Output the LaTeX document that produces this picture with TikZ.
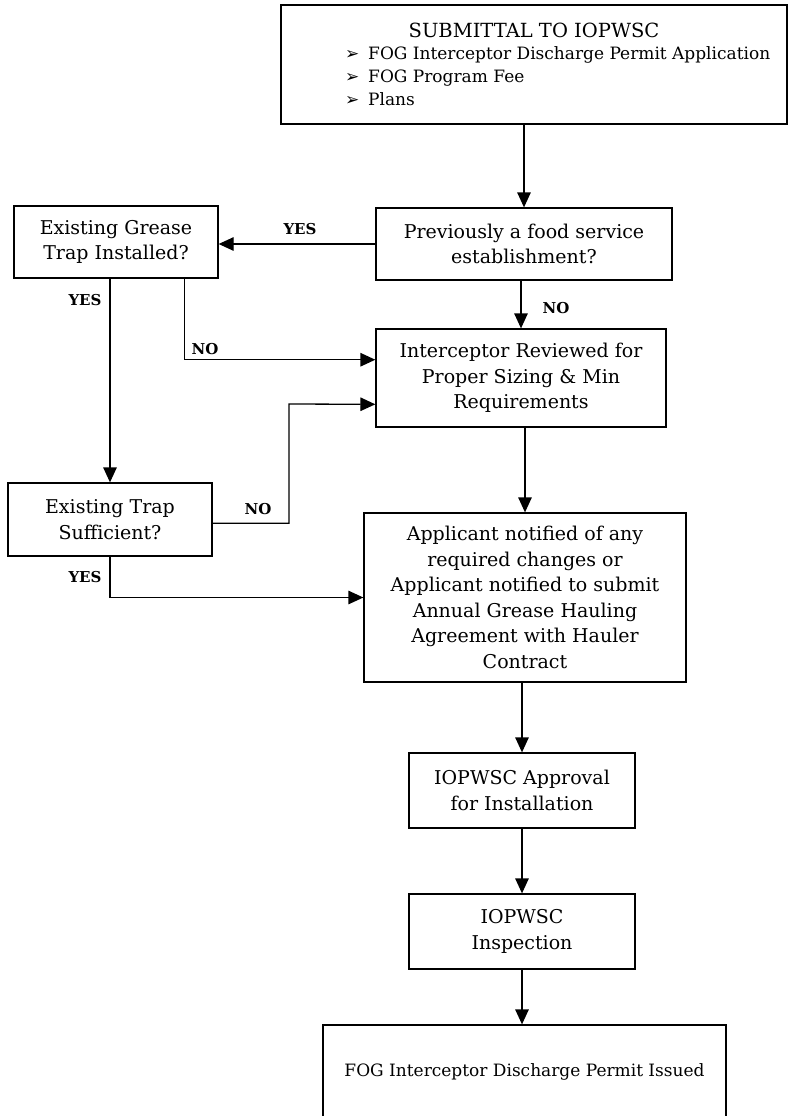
\documentclass[tikz,border=0pt]{standalone}
\usepackage{fontspec}
\setmainfont{DejaVu Serif}
\newfontfamily\dvsans{DejaVu Sans}
\usetikzlibrary{arrows.meta,calc}
\begin{document}
\begin{tikzpicture}[x=1pt,y=-1pt,
  box/.style={draw, line width=1.3pt, align=center, inner sep=0pt,
    font=\fontsize{19}{25.5}\selectfont},
  arr/.style={line width=1.3pt, -{Triangle[length=15pt,width=13.5pt]}},
  lab/.style={font=\fontsize{15}{17}\selectfont\bfseries, inner sep=0pt},
  small/.style={font=\fontsize{17}{23}\selectfont},
  bul/.style={}]
\useasboundingbox (0,0) rectangle (788,1116);

% boxes
\node[box, minimum width=506pt, minimum height=119pt] (top) at (534,64.5) {};
\node[font=\fontsize{19.5}{23}\selectfont, inner sep=0pt] (title) at (534,30) {SUBMITTAL TO IOPWSC};
\node[small, anchor=west, align=left, inner sep=0pt] (list) at (345,76)
  {\makebox[23pt][l]{\dvsans\fontsize{17}{23}\selectfont ➢}FOG Interceptor Discharge Permit Application\\
   \makebox[23pt][l]{\dvsans\fontsize{17}{23}\selectfont ➢}FOG Program Fee\\
   \makebox[23pt][l]{\dvsans\fontsize{17}{23}\selectfont ➢}Plans};

\node[box, minimum width=296pt, minimum height=72pt] (prev) at (524,244)
  {Previously a food service\\establishment?};
\node[box, minimum width=204pt, minimum height=72pt] (grease) at (116,242)
  {Existing Grease\\Trap Installed?};
\node[box, minimum width=290pt, minimum height=98pt] (intc) at (521,378)
  {Interceptor Reviewed for\\Proper Sizing \& Min\\Requirements};
\node[box, minimum width=204pt, minimum height=73pt] (trap) at (110,519.5)
  {Existing Trap\\Sufficient?};
\node[box, minimum width=322pt, minimum height=169pt] (appl) at (525,597.5)
  {Applicant notified of any\\required changes or\\Applicant notified to submit\\Annual Grease Hauling\\Agreement with Hauler\\Contract};
\node[box, minimum width=226pt, minimum height=75pt] (appr) at (522,790.5)
  {IOPWSC Approval\\for Installation};
\node[box, minimum width=226pt, minimum height=75pt] (insp) at (522,931.5)
  {IOPWSC\\Inspection};
\begin{scope}
  \clip (0,0) rectangle (788,1116);
  \node[box, small, minimum width=403pt, minimum height=94pt] (fin) at (524.5,1072)
    {FOG Interceptor Discharge Permit Issued};
\end{scope}

% connectors
\draw[arr] (prev.north |- top.south) -- (prev.north);
\draw[arr] (prev.west) -- (grease.east |- prev.west);
\node[lab] at (300,229) {YES};
\draw[arr] (intc.north |- prev.south) -- (intc.north);
\node[lab] at (556,308) {NO};
\draw[arr] (trap.north |- grease.south) -- (trap.north);
\node[lab] at (85,300) {YES};
\coordinate (g2) at ($(grease.south west)!0.833!(grease.south east)$);
\coordinate (i1) at ($(intc.north west)!0.316!(intc.south west)$);
\draw[arr] (g2) |- (i1);
\node[lab] at (205,349) {NO};
\coordinate (t1) at ($(trap.north east)!0.55!(trap.south east)$);
\coordinate (i2) at ($(intc.north west)!0.765!(intc.south west)$);
\coordinate (j) at (289,404);
\draw[arr] (t1) -| (j) -- (i2);
\node[lab] at (258,509) {NO};
\draw[arr] (appl.north |- intc.south) -- (appl.north);
\draw[arr] (trap.south) |- (appl.west);
\node[lab] at (85,577) {YES};
\draw[arr] (appr.north |- appl.south) -- (appr.north);
\draw[arr] (appr.south) -- (insp.north);
\draw[arr] (insp.south) -- (insp.south |- fin.north);
\end{tikzpicture}
\end{document}
